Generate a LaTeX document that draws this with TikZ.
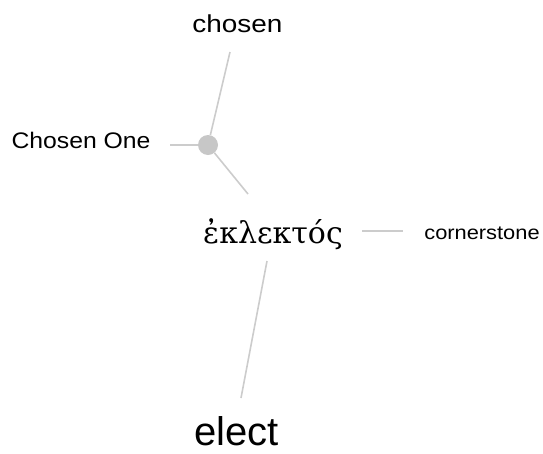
\documentclass[tikz,border=0pt]{standalone}
\usepackage{fontspec}
\usepackage{graphicx}
\setmainfont{Liberation Sans}
\newfontfamily\greekfont[Script=Greek]{DejaVu Serif}
\newcommand{\widetext}[2]{\scalebox{#1}[1]{#2}}
\begin{document}
\begin{tikzpicture}[x=1pt,y=-1pt,
  lbl/.style={anchor=base,inner sep=0pt,text=black},
  link/.style={draw=black!20,line width=1.6pt},
  hubdot/.style={circle,fill=black!22,minimum size=20pt,inner sep=0pt}]
\useasboundingbox (0,0) rectangle (543,453);
\node[lbl,font=\fontsize{24.5}{25}\selectfont] (chosen) at (237.5,32) {\widetext{1.14}{chosen}};
\node[lbl,font=\fontsize{22.5}{22}\selectfont] (one) at (81,148) {\widetext{1.1}{Chosen One}};
\node[lbl,font=\fontsize{19.5}{19}\selectfont] (corner) at (482,239) {\widetext{1.12}{cornerstone}};
\node[lbl,text depth=0pt,font=\fontsize{40}{40}\selectfont] (elect) at (236.5,445) {elect};
\node[lbl,font=\greekfont\fontsize{30}{30}\selectfont] (greek) at (273,243) {ἐκλεκτός};
\node[hubdot] (hub) at (208,145) {};
\coordinate (chosenEnd) at (230,52);
\coordinate (oneEnd) at (170,145);
\coordinate (greekTop) at (248,194);
\coordinate (cornerA) at (362,231);
\coordinate (cornerB) at (403,231);
\coordinate (electA) at (267,261);
\coordinate (electB) at (241,398);
\draw[link] (hub) -- (chosenEnd);
\draw[link] (hub) -- (oneEnd);
\draw[link] (hub) -- (greekTop);
\draw[link] (cornerA) -- (cornerB);
\draw[link] (electA) -- (electB);
\end{tikzpicture}
\end{document}
